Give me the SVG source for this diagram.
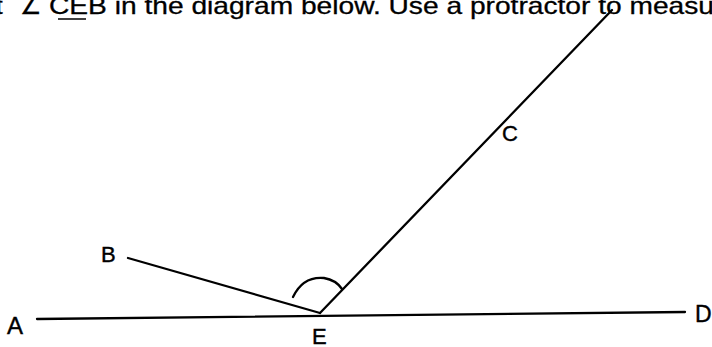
<svg xmlns="http://www.w3.org/2000/svg" width="712" height="347" viewBox="0 0 712 347">
<style>
.ln{stroke:#000;stroke-width:2.3;fill:none;stroke-linecap:round}
.lbl{font-family:"Liberation Sans",Arial,sans-serif;font-size:22px;fill:#000;stroke:#000;stroke-width:0.4}
.hdr{font-family:"Liberation Sans",Arial,sans-serif;font-size:24px;fill:#000;stroke:#000;stroke-width:0.3}
</style>
<rect width="712" height="347" fill="#fff"/>
<g id="header">
<text class="hdr" x="-4" y="14">t</text>
<text class="hdr" x="20" y="14">∠</text>
<text class="hdr" x="49" y="14" textLength="690" lengthAdjust="spacingAndGlyphs">CEB in the diagram below. Use a protractor to measure</text>
<line x1="58" y1="19" x2="86" y2="19" stroke="#000" stroke-width="1.5"/>
</g>
<g id="connectors">
<line id="AD" class="ln" x1="37" y1="319" x2="685" y2="312"/>
<line id="EB" class="ln" x1="128" y1="258" x2="320" y2="313"/>
<line id="EC" class="ln" x1="320" y1="313" x2="612" y2="10"/>
<path id="arc" class="ln" d="M293,297 Q303,276 324,278 Q336,280 342,289"/>
</g>
<g id="A"><text class="lbl" x="7" y="334" style="font-size:24px">A</text></g>
<g id="B"><text class="lbl" x="101" y="262">B</text></g>
<g id="C"><text class="lbl" x="502" y="141">C</text></g>
<g id="D"><text class="lbl" x="695" y="322" style="font-size:23px">D</text></g>
<g id="E"><text class="lbl" x="312" y="344">E</text></g>
</svg>
